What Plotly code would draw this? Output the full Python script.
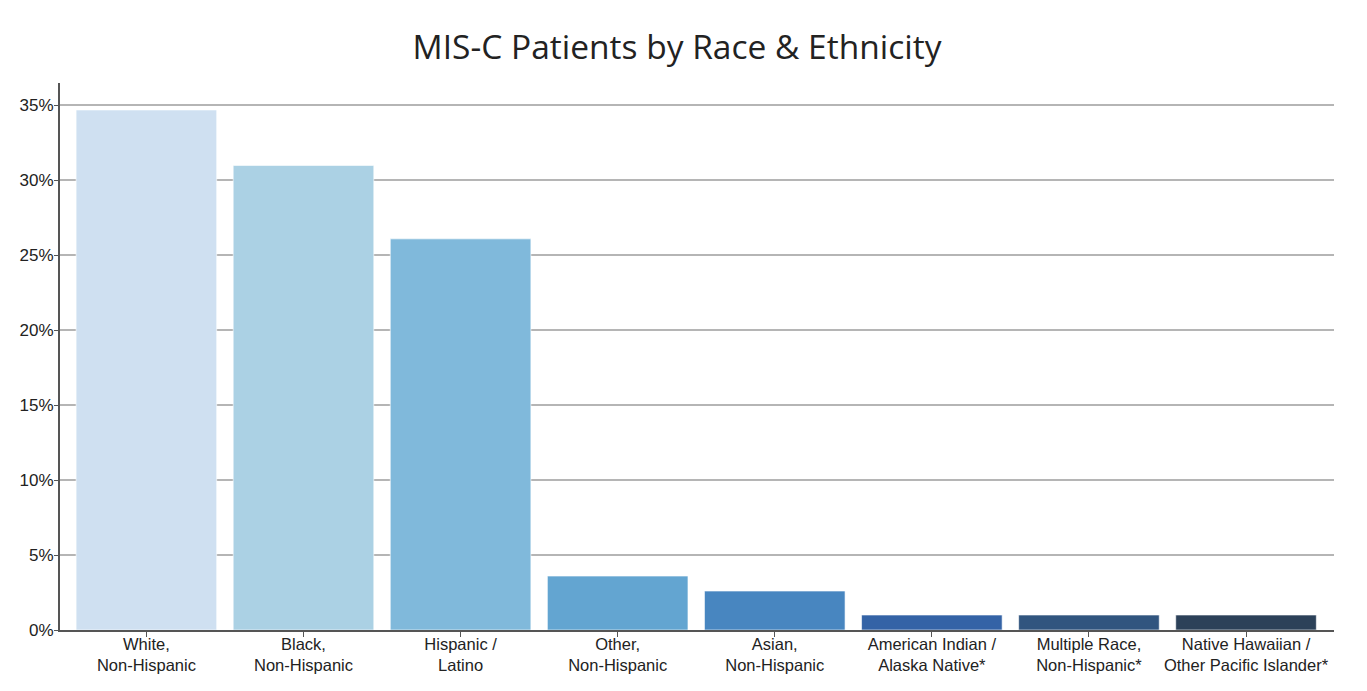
import plotly.graph_objects as go

categories = [
    "White,<br>Non-Hispanic",
    "Black,<br>Non-Hispanic",
    "Hispanic /<br>Latino",
    "Other,<br>Non-Hispanic",
    "Asian,<br>Non-Hispanic",
    "American Indian /<br>Alaska Native*",
    "Multiple Race,<br>Non-Hispanic*",
    "Native Hawaiian /<br>Other Pacific Islander*",
]
values = [34.7, 31.0, 26.1, 3.6, 2.6, 1.0, 1.0, 1.0]
colors = ["#cfe0f1", "#abd1e4", "#80b9db", "#63a5d1", "#4886c0", "#3463a6", "#31557f", "#2c4159"]
y_ticks = [0, 5, 10, 15, 20, 25, 30, 35]
y_tick_labels = ["0%", "5%", "10%", "15%", "20%", "25%", "30%", "35%"]

fig = go.Figure(go.Bar(
    x=categories,
    y=values,
    marker=dict(color=colors, line=dict(color="rgba(255,255,255,0.6)", width=1)),
    hovertemplate="%{y}%<extra></extra>",
))

fig.update_layout(
    width=1359, height=683,
    paper_bgcolor="white", plot_bgcolor="white",
    margin=dict(l=50, r=33, t=75, b=61),
    bargap=0.105,
    showlegend=False,
    title=dict(text="MIS-C Patients by Race & Ethnicity", x=0.4923, xanchor="center",
               y=0.943, yanchor="middle",
               font=dict(family="Open Sans", size=33.5, color="#222")),
    font=dict(family="Liberation Sans, Arial", size=17, color="#222"),
)

fig.update_xaxes(
    range=[-0.55, 7.56],
    showline=True, linecolor="#555", linewidth=2,
    ticks="outside", ticklen=5, tickcolor="#555", tickwidth=1,
    ticklabelstandoff=-7,
    showgrid=False, tickfont=dict(size=16.5, color="#222"),
)
fig.update_yaxes(
    range=[0, 36.5],
    tickvals=y_ticks, ticktext=y_tick_labels,
    showline=True, linecolor="#555", linewidth=2,
    ticks="outside", ticklen=4, tickcolor="#555",
    ticklabelstandoff=-3,
    showgrid=True, gridcolor="#b5b5b5", gridwidth=1.5,
    zeroline=False, tickfont=dict(size=17, color="#222"),
)

fig.write_html("out.html")
